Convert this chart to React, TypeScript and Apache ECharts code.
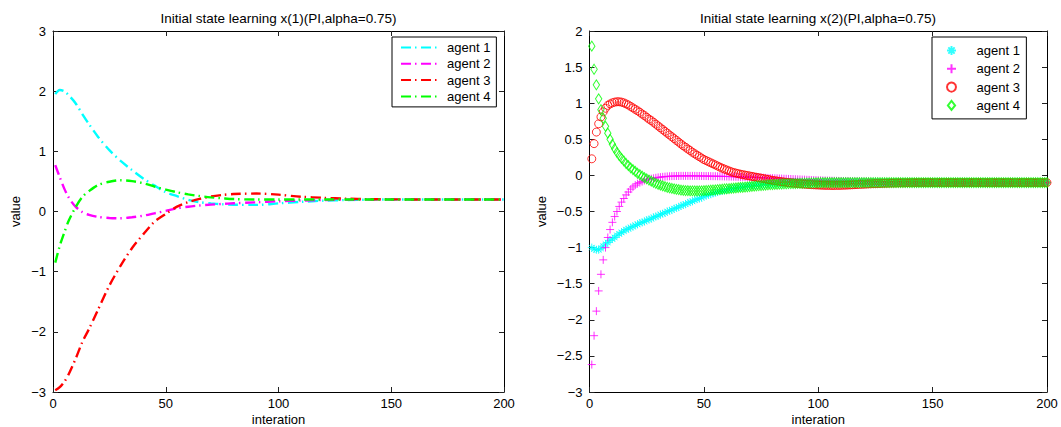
import React, { useEffect, useRef } from "react";
import * as echarts from "echarts";

const FONT = "'Liberation Sans', Arial, Helvetica, sans-serif";

const agentNames = ["agent 1", "agent 2", "agent 3", "agent 4"];
const agentColors = ["#00ffff", "#ff00ff", "#ff0000", "#00ff00"];

const leftTitle = "Initial state learning x(1)(PI,alpha=0.75)";
const rightTitle = "Initial state learning x(2)(PI,alpha=0.75)";

// ---- Left chart: x(1), sampled iterations ----
const leftIter = [1, 3, 5, 7, 10, 13, 16, 20, 25, 30, 35, 40, 45, 50, 55, 60, 65, 70, 75, 80, 90, 100, 110, 120, 130, 140, 150, 160, 170, 180, 190, 200];
const leftAgent1 = [1.95, 2.02, 2.0, 1.93, 1.8, 1.62, 1.45, 1.24, 1.02, 0.84, 0.69, 0.55, 0.43, 0.32, 0.255, 0.195, 0.155, 0.135, 0.12, 0.112, 0.11, 0.135, 0.16, 0.18, 0.19, 0.197, 0.2, 0.2, 0.2, 0.2, 0.2, 0.2];
const leftAgent2 = [0.77, 0.57, 0.38, 0.23, 0.08, -0.01, -0.055, -0.09, -0.108, -0.112, -0.095, -0.07, -0.03, 0.01, 0.053, 0.08, 0.1, 0.115, 0.125, 0.136, 0.152, 0.17, 0.182, 0.19, 0.195, 0.198, 0.2, 0.2, 0.2, 0.2, 0.2, 0.2];
const leftAgent3 = [-2.97, -2.92, -2.83, -2.7, -2.45, -2.17, -1.95, -1.63, -1.23, -0.9, -0.61, -0.38, -0.17, -0.04, 0.08, 0.155, 0.21, 0.25, 0.275, 0.29, 0.298, 0.28, 0.245, 0.228, 0.213, 0.205, 0.202, 0.2, 0.2, 0.2, 0.2, 0.2];
const leftAgent4 = [-0.85, -0.57, -0.35, -0.15, 0.07, 0.24, 0.34, 0.44, 0.495, 0.52, 0.505, 0.47, 0.415, 0.365, 0.32, 0.285, 0.257, 0.235, 0.22, 0.207, 0.2, 0.2, 0.2, 0.2, 0.2, 0.2, 0.2, 0.2, 0.2, 0.2, 0.2, 0.2];

// ---- Right chart: x(2), one value per iteration 1..200 ----
const rightAgent1 = [
  -1.0, -1.02, -1.03, -1.03, -1.01, -0.98, -0.95, -0.93, -0.9, -0.88,
  -0.86, -0.83, -0.81, -0.79, -0.77, -0.75, -0.74, -0.72, -0.71, -0.69,
  -0.68, -0.66, -0.65, -0.64, -0.62, -0.61, -0.6, -0.58, -0.57, -0.56,
  -0.54, -0.53, -0.52, -0.5, -0.49, -0.48, -0.46, -0.45, -0.44, -0.42,
  -0.41, -0.4, -0.38, -0.37, -0.36, -0.34, -0.33, -0.32, -0.31, -0.29,
  -0.28, -0.27, -0.26, -0.25, -0.24, -0.23, -0.22, -0.215, -0.21, -0.2,
  -0.19, -0.185, -0.18, -0.175, -0.17, -0.165, -0.16, -0.155, -0.15, -0.147,
  -0.143, -0.14, -0.137, -0.133, -0.13, -0.127, -0.125, -0.122, -0.12, -0.118,
  -0.116, -0.114, -0.112, -0.11, -0.108, -0.107, -0.106, -0.105, -0.104, -0.103,
  -0.102, -0.102, -0.101, -0.101, -0.1, -0.1, -0.1, -0.1, -0.1, -0.1,
  -0.1, -0.1, -0.1, -0.1, -0.1, -0.1, -0.1, -0.1, -0.1, -0.1,
  -0.1, -0.1, -0.1, -0.1, -0.1, -0.1, -0.1, -0.1, -0.1, -0.1,
  -0.1, -0.1, -0.1, -0.1, -0.1, -0.1, -0.1, -0.1, -0.1, -0.1,
  -0.1, -0.1, -0.1, -0.1, -0.1, -0.1, -0.1, -0.1, -0.1, -0.1,
  -0.1, -0.1, -0.1, -0.1, -0.1, -0.1, -0.1, -0.1, -0.1, -0.1,
  -0.1, -0.1, -0.1, -0.1, -0.1, -0.1, -0.1, -0.1, -0.1, -0.1,
  -0.1, -0.1, -0.1, -0.1, -0.1, -0.1, -0.1, -0.1, -0.1, -0.1,
  -0.1, -0.1, -0.1, -0.1, -0.1, -0.1, -0.1, -0.1, -0.1, -0.1,
  -0.1, -0.1, -0.1, -0.1, -0.1, -0.1, -0.1, -0.1, -0.1, -0.1,
  -0.1, -0.1, -0.1, -0.1, -0.1, -0.1, -0.1, -0.1, -0.1, -0.1,
];
const rightAgent2 = [
  -2.62, -2.22, -1.88, -1.6, -1.37, -1.17, -1.0, -0.86, -0.75, -0.65,
  -0.57, -0.5, -0.43, -0.37, -0.32, -0.27, -0.23, -0.19, -0.16, -0.135,
  -0.115, -0.1, -0.085, -0.07, -0.06, -0.05, -0.045, -0.04, -0.033, -0.028,
  -0.024, -0.02, -0.017, -0.014, -0.012, -0.01, -0.009, -0.008, -0.008, -0.007,
  -0.007, -0.007, -0.007, -0.007, -0.007, -0.007, -0.008, -0.008, -0.008, -0.009,
  -0.009, -0.01, -0.01, -0.011, -0.011, -0.012, -0.012, -0.013, -0.014, -0.015,
  -0.016, -0.017, -0.018, -0.019, -0.02, -0.021, -0.022, -0.023, -0.024, -0.025,
  -0.026, -0.027, -0.028, -0.03, -0.031, -0.032, -0.034, -0.035, -0.037, -0.038,
  -0.04, -0.041, -0.043, -0.044, -0.046, -0.047, -0.049, -0.05, -0.052, -0.053,
  -0.055, -0.056, -0.058, -0.059, -0.061, -0.062, -0.064, -0.065, -0.066, -0.068,
  -0.069, -0.07, -0.071, -0.072, -0.073, -0.074, -0.075, -0.076, -0.077, -0.078,
  -0.079, -0.08, -0.081, -0.082, -0.083, -0.083, -0.084, -0.085, -0.086, -0.086,
  -0.087, -0.088, -0.088, -0.089, -0.09, -0.09, -0.091, -0.091, -0.092, -0.092,
  -0.093, -0.093, -0.094, -0.094, -0.094, -0.095, -0.095, -0.096, -0.096, -0.096,
  -0.097, -0.097, -0.097, -0.097, -0.098, -0.098, -0.098, -0.098, -0.099, -0.099,
  -0.099, -0.099, -0.099, -0.099, -0.099, -0.099, -0.099, -0.099, -0.099, -0.099,
  -0.1, -0.1, -0.1, -0.1, -0.1, -0.1, -0.1, -0.1, -0.1, -0.1,
  -0.1, -0.1, -0.1, -0.1, -0.1, -0.1, -0.1, -0.1, -0.1, -0.1,
  -0.1, -0.1, -0.1, -0.1, -0.1, -0.1, -0.1, -0.1, -0.1, -0.1,
  -0.1, -0.1, -0.1, -0.1, -0.1, -0.1, -0.1, -0.1, -0.1, -0.1,
];
const rightAgent3 = [
  0.23, 0.44, 0.6, 0.715, 0.81, 0.88, 0.93, 0.97, 0.99, 1.005,
  1.015, 1.02, 1.02, 1.015, 1.005, 0.99, 0.975, 0.955, 0.935, 0.915,
  0.895, 0.875, 0.85, 0.83, 0.805, 0.78, 0.76, 0.735, 0.71, 0.685,
  0.66, 0.635, 0.61, 0.585, 0.56, 0.535, 0.51, 0.485, 0.46, 0.435,
  0.41, 0.39, 0.365, 0.345, 0.32, 0.3, 0.28, 0.26, 0.24, 0.22,
  0.205, 0.19, 0.175, 0.16, 0.145, 0.13, 0.115, 0.1, 0.087, 0.075,
  0.062, 0.05, 0.04, 0.032, 0.024, 0.017, 0.01, 0.004, -0.002, -0.008,
  -0.014, -0.02, -0.026, -0.032, -0.038, -0.044, -0.05, -0.056, -0.062, -0.068,
  -0.073, -0.078, -0.083, -0.087, -0.091, -0.095, -0.099, -0.103, -0.107, -0.11,
  -0.113, -0.116, -0.119, -0.121, -0.124, -0.126, -0.128, -0.13, -0.132, -0.133,
  -0.135, -0.136, -0.137, -0.138, -0.138, -0.139, -0.139, -0.138, -0.138, -0.137,
  -0.136, -0.135, -0.133, -0.132, -0.13, -0.128, -0.126, -0.124, -0.123, -0.121,
  -0.12, -0.118, -0.117, -0.115, -0.114, -0.113, -0.112, -0.11, -0.109, -0.108,
  -0.107, -0.106, -0.106, -0.105, -0.104, -0.104, -0.103, -0.103, -0.102, -0.102,
  -0.102, -0.101, -0.101, -0.101, -0.101, -0.1, -0.1, -0.1, -0.1, -0.1,
  -0.1, -0.1, -0.1, -0.1, -0.1, -0.1, -0.1, -0.1, -0.1, -0.1,
  -0.1, -0.1, -0.1, -0.1, -0.1, -0.1, -0.1, -0.1, -0.1, -0.1,
  -0.1, -0.1, -0.1, -0.1, -0.1, -0.1, -0.1, -0.1, -0.1, -0.1,
  -0.1, -0.1, -0.1, -0.1, -0.1, -0.1, -0.1, -0.1, -0.1, -0.1,
  -0.1, -0.1, -0.1, -0.1, -0.1, -0.1, -0.1, -0.1, -0.1, -0.1,
];
const rightAgent4 = [
  1.79, 1.47, 1.255, 1.06, 0.91, 0.79, 0.68, 0.585, 0.5, 0.43,
  0.37, 0.32, 0.275, 0.235, 0.2, 0.165, 0.135, 0.105, 0.08, 0.055,
  0.03, 0.01, -0.01, -0.03, -0.048, -0.065, -0.08, -0.095, -0.11, -0.123,
  -0.135, -0.146, -0.156, -0.165, -0.173, -0.18, -0.187, -0.193, -0.198, -0.203,
  -0.207, -0.21, -0.212, -0.214, -0.215, -0.215, -0.215, -0.214, -0.213, -0.211,
  -0.209, -0.207, -0.205, -0.202, -0.2, -0.197, -0.194, -0.191, -0.188, -0.185,
  -0.182, -0.179, -0.176, -0.173, -0.17, -0.167, -0.164, -0.161, -0.158, -0.155,
  -0.152, -0.149, -0.146, -0.143, -0.14, -0.137, -0.134, -0.131, -0.129, -0.127,
  -0.125, -0.123, -0.121, -0.119, -0.117, -0.116, -0.115, -0.114, -0.113, -0.112,
  -0.111, -0.11, -0.109, -0.108, -0.107, -0.106, -0.105, -0.104, -0.103, -0.102,
  -0.101, -0.101, -0.1, -0.1, -0.1, -0.1, -0.1, -0.1, -0.1, -0.1,
  -0.1, -0.1, -0.1, -0.1, -0.1, -0.1, -0.1, -0.1, -0.1, -0.1,
  -0.1, -0.1, -0.1, -0.1, -0.1, -0.1, -0.1, -0.1, -0.1, -0.1,
  -0.1, -0.1, -0.1, -0.1, -0.1, -0.1, -0.1, -0.1, -0.1, -0.1,
  -0.1, -0.1, -0.1, -0.1, -0.1, -0.1, -0.1, -0.1, -0.1, -0.1,
  -0.1, -0.1, -0.1, -0.1, -0.1, -0.1, -0.1, -0.1, -0.1, -0.1,
  -0.1, -0.1, -0.1, -0.1, -0.1, -0.1, -0.1, -0.1, -0.1, -0.1,
  -0.1, -0.1, -0.1, -0.1, -0.1, -0.1, -0.1, -0.1, -0.1, -0.1,
  -0.1, -0.1, -0.1, -0.1, -0.1, -0.1, -0.1, -0.1, -0.1, -0.1,
  -0.1, -0.1, -0.1, -0.1, -0.1, -0.1, -0.1, -0.1, -0.1, -0.1,
];

const ASTERISK = "path://M0,10L20,10M10,0L10,20M3,3L17,17M3,17L17,3";
const PLUS = "path://M0,10L20,10M10,0L10,20";
const DIAMOND = "path://M8,0L16,10L8,20L0,10Z";
const rightSymbols = [ASTERISK, PLUS, "circle", DIAMOND];
const rightSymbolSizes: any[] = [8, 8, 8, [8, 10]];

const minusFmt = (v: number) => String(v).replace("-", "\u2212");

function axes(yMin: number, yMax: number, yInterval: number, yNameGap: number) {
  const line = { show: true, onZero: false, lineStyle: { color: "#000", width: 1 } };
  const tick = { show: true, inside: true, length: 5, lineStyle: { color: "#222", width: 1 } };
  const label = { color: "#000", fontSize: 13, fontFamily: FONT };
  return {
    xAxis: [
      {
        type: "value", min: 0, max: 200, interval: 50, position: "bottom",
        axisLine: line, axisTick: tick, splitLine: { show: false },
        axisLabel: { ...label, margin: 5 },
        name: "interation", nameLocation: "middle", nameGap: 20, nameMoveOverlap: false,
        nameTextStyle: { color: "#000", fontSize: 13, lineHeight: 14, fontFamily: FONT },
      },
      {
        type: "value", min: 0, max: 200, interval: 50, position: "top",
        axisLine: line, axisTick: tick, splitLine: { show: false },
        axisLabel: { show: false },
      },
    ],
    yAxis: [
      {
        type: "value", min: yMin, max: yMax, interval: yInterval, position: "left",
        axisLine: line, axisTick: tick, splitLine: { show: false },
        axisLabel: { ...label, margin: 7, formatter: minusFmt },
        name: "value", nameLocation: "middle", nameGap: yNameGap, nameMoveOverlap: false,
        nameTextStyle: { color: "#000", fontSize: 13, fontFamily: FONT },
      },
      {
        type: "value", min: yMin, max: yMax, interval: yInterval, position: "right",
        axisLine: line, axisTick: tick, splitLine: { show: false },
        axisLabel: { show: false },
      },
    ],
  };
}

function leftOption() {
  const series = [leftAgent1, leftAgent2, leftAgent3, leftAgent4].map((vals, i) => ({
    type: "line",
    name: agentNames[i],
    data: vals.map((v, j) => [leftIter[j], v]),
    symbol: "circle",
    showSymbol: false,
    smooth: 0.3,
    silent: true,
    lineStyle: { color: agentColors[i], width: 2.4, type: [10, 4, 1.5, 4.5] },
    itemStyle: { color: agentColors[i] },
  }));
  return {
    animation: false,
    backgroundColor: "#fff",
    grid: { left: 53, top: 31, width: 451, height: 361, outerBoundsMode: "none", containLabel: false },
    ...axes(-3, 3, 1, 31),
    legend: {
      orient: "vertical", left: 392, top: 37,
      padding: [4, 6, 4, 8], itemGap: 3.3, itemWidth: 37, itemHeight: 14,
      borderColor: "#000", borderWidth: 1, backgroundColor: "#fff",
      selectedMode: false,
      itemStyle: { opacity: 0 },
      textStyle: { color: "#000", fontSize: 13, fontFamily: FONT, padding: [0, 0, 0, 4] },
      data: agentNames,
    },
    graphic: [
      {
        type: "text", x: 278.5, y: 18, silent: true,
        style: { text: leftTitle, fill: "#000", fontSize: 13.5, fontFamily: FONT, align: "center", verticalAlign: "middle" },
      },
    ],
    series,
  };
}

function rightOption() {
  const series = [rightAgent1, rightAgent2, rightAgent3, rightAgent4].map((vals, i) => ({
    type: "scatter",
    name: agentNames[i],
    data: vals.map((v, j) => [j + 1, v]),
    symbol: rightSymbols[i],
    symbolSize: rightSymbolSizes[i],
    symbolKeepAspect: true,
    silent: true,
    itemStyle: { color: "none", borderColor: agentColors[i], borderWidth: 1 },
  }));
  return {
    animation: false,
    backgroundColor: "#fff",
    grid: { left: 59.5, top: 31, width: 457.5, height: 361, outerBoundsMode: "none", containLabel: false },
    ...axes(-3, 2, 0.5, 41.5),
    legend: {
      orient: "vertical", left: 402, top: 37,
      padding: [6.5, 6.5, 6.5, 12.5], itemGap: 4.3, itemWidth: 37, itemHeight: 9,
      borderColor: "#000", borderWidth: 1, backgroundColor: "#fff",
      selectedMode: false,
      symbolKeepAspect: true,
      textStyle: { color: "#000", fontSize: 13, fontFamily: FONT, padding: [0, 0, 0, 1.5] },
      data: agentNames,
    },
    graphic: [
      {
        type: "text", x: 288, y: 18, silent: true,
        style: { text: rightTitle, fill: "#000", fontSize: 13.5, fontFamily: FONT, align: "center", verticalAlign: "middle" },
      },
    ],
    series,
  };
}

export default function App() {
  const leftRef = useRef<HTMLDivElement>(null);
  const rightRef = useRef<HTMLDivElement>(null);

  useEffect(() => {
    const l = echarts.init(leftRef.current!, undefined, { renderer: "svg" });
    const r = echarts.init(rightRef.current!, undefined, { renderer: "svg" });
    l.setOption(leftOption() as any);
    r.setOption(rightOption() as any);
    return () => {
      l.dispose();
      r.dispose();
    };
  }, []);

  return (
    <div style={{ position: "fixed", left: 0, top: 0, width: 1061, height: 427, background: "#fff" }}>
      <div ref={leftRef} style={{ position: "absolute", left: 0, top: 0, width: 530, height: 427 }} />
      <div ref={rightRef} style={{ position: "absolute", left: 530, top: 0, width: 531, height: 427 }} />
    </div>
  );
}
